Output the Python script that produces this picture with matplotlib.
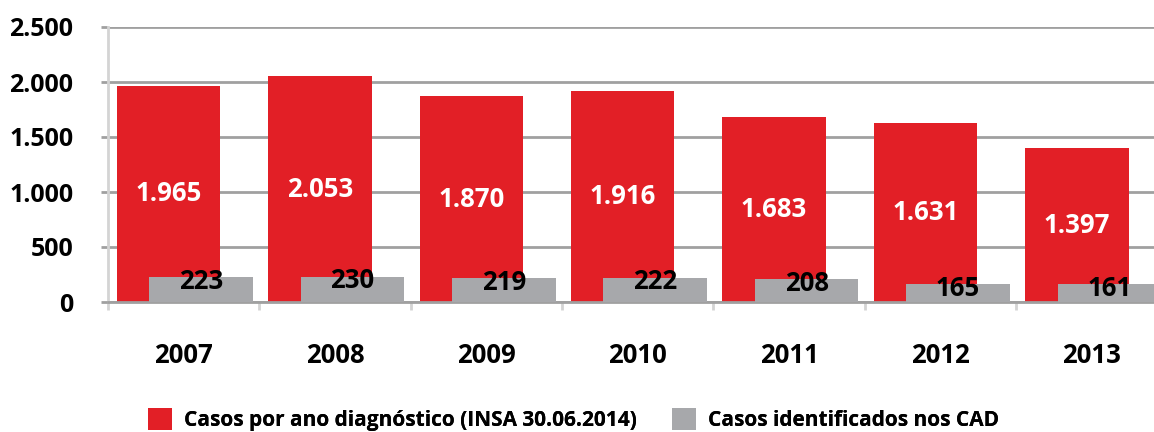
import matplotlib.pyplot as plt
import numpy as np

# Data
years = ['2007', '2008', '2009', '2010', '2011', '2012', '2013']
casos_insa = [1965, 2053, 1870, 1916, 1683, 1631, 1397]
casos_cad = [223, 230, 219, 222, 208, 165, 161]
legend_labels = ['Casos por ano diagnóstico (INSA 30.06.2014)', 'Casos identificados nos CAD']

red = '#e21f26'
grey = '#a7a8ab'

plt.rcParams['font.family'] = ['Open Sans', 'DejaVu Sans']

fig = plt.figure(figsize=(11.54, 4.32), dpi=100)
ax = fig.add_axes([108 / 1154, 1 - 302 / 432, 1 - 108 / 1154, (302 - 27) / 432])

x = np.arange(len(years))
width = 0.684

b1 = ax.bar(x - 0.1, casos_insa, width, color=red, zorder=2)
b2 = ax.bar(x + 0.115, casos_cad, width, color=grey, zorder=3)

for xi, v in zip(x, casos_insa):
    ax.text(xi - 0.1, v / 2, f"{v:,}".replace(',', '.'), ha='center', va='center',
            color='white', fontsize=18.5, fontweight='bold', zorder=4)
for xi, v in zip(x, casos_cad):
    ax.annotate(f"{v}", (xi + 0.115, v), xytext=(0, -3), textcoords='offset points',
                ha='center', va='center', color='black', fontsize=18.5,
                fontweight='bold', zorder=4)

ax.set_yticks(np.arange(0, 2501, 500))
ax.set_yticklabels([f"{t:,}".replace(',', '.') for t in range(0, 2501, 500)],
                   fontsize=18, fontweight='bold')
ax.yaxis.grid(True, color='#a0a0a0', linewidth=2, zorder=1)
ax.tick_params(axis='y', length=5, width=2, color='#a0a0a0', pad=20)

# category ticks at boundaries, labels at centres
ax.set_xticks(np.arange(-0.5, 7, 1))
ax.set_xticklabels([])
ax.set_xticks(x, minor=True)
ax.set_xticklabels(years, minor=True, fontsize=18.5, fontweight='bold')
ax.tick_params(axis='x', which='major', length=6, width=2, color='#d4d4d4')
ax.tick_params(axis='x', which='minor', length=0, pad=29)

ax.set_xlim(-0.5, 6.41)
ax.set_ylim(0, 2500)

for s in ['top', 'right']:
    ax.spines[s].set_visible(False)
ax.spines['left'].set_color('#d4d4d4')
ax.spines['left'].set_linewidth(2)
ax.spines['bottom'].set_color('#a0a0a0')
ax.spines['bottom'].set_linewidth(2)
ax.set_axisbelow(True)

leg_prop = {'weight': 'bold', 'size': 15}
for handle, label, x0 in [(b1, legend_labels[0], 148), (b2, legend_labels[1], 672)]:
    lg = fig.legend(handles=[handle], labels=[label], loc='lower left',
                    bbox_to_anchor=(x0 / 1154, 0.002), frameon=False,
                    borderpad=0, borderaxespad=0, handlelength=1.15,
                    handleheight=1.2, handletextpad=0.6, prop=leg_prop)
    fig.add_artist(lg)

plt.savefig('out.png', dpi=100)
